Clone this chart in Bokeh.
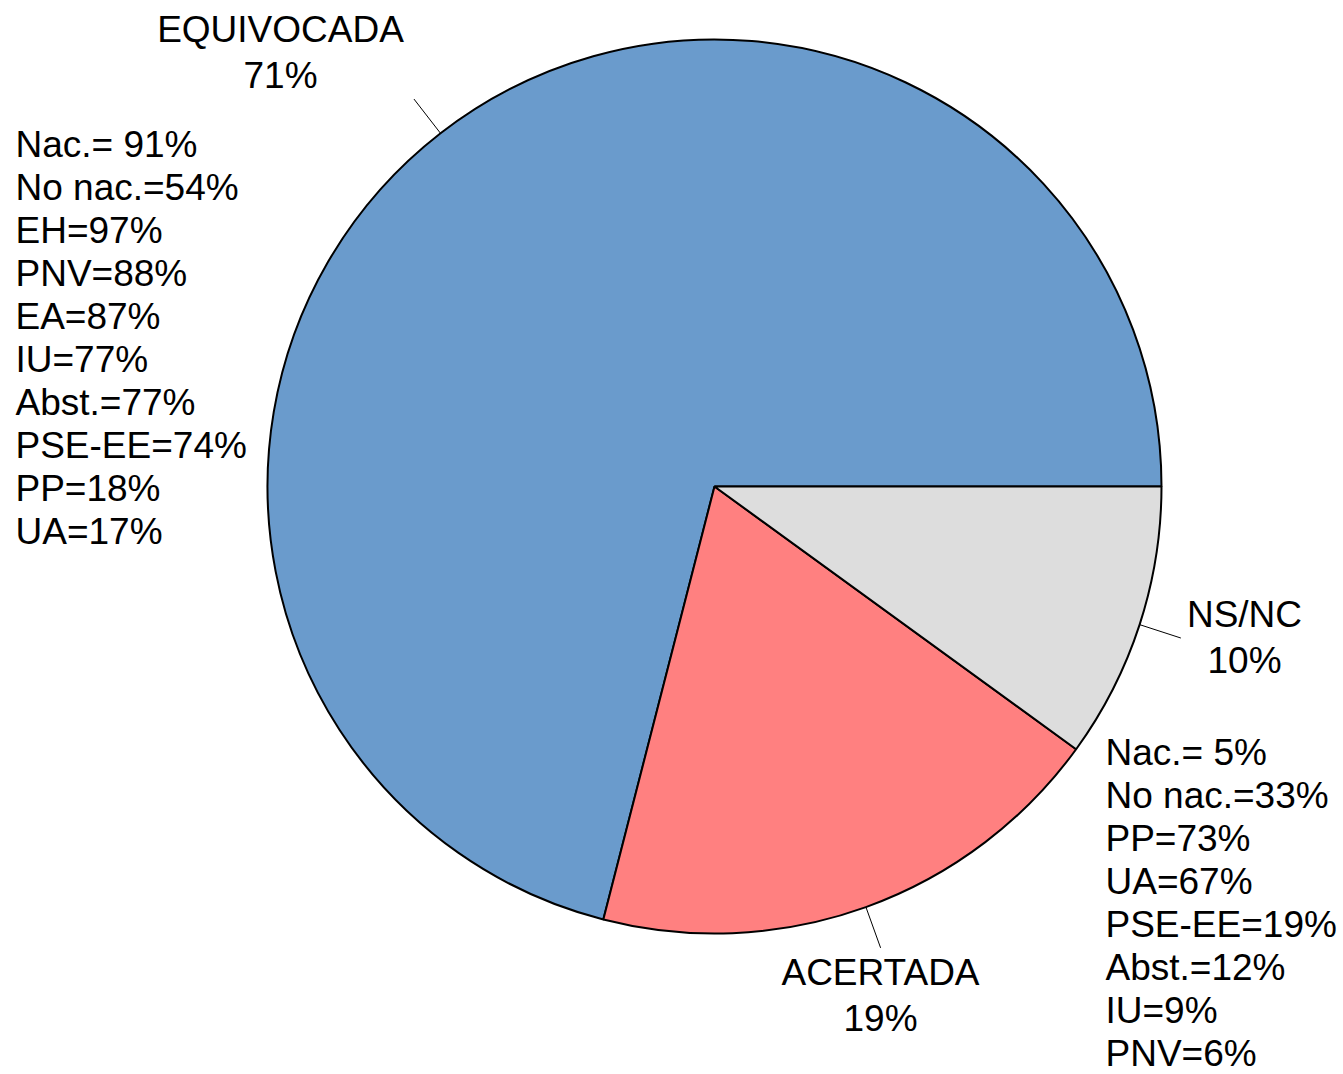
import numpy as np
from bokeh.plotting import figure
from bokeh.models import Range1d, ColumnDataSource
from bokeh.core.properties import value
from bokeh.embed import file_html
from bokeh.resources import INLINE

# ---- data ----
categories = ["EQUIVOCADA", "ACERTADA", "NS/NC"]
shares = [71, 19, 10]
colors = ["#6A9BCC", "#FF8080", "#DDDDDD"]

equiv_names = ["Nac.", "No nac.", "EH", "PNV", "EA", "IU", "Abst.", "PSE-EE", "PP", "UA"]
equiv_vals = [91, 54, 97, 88, 87, 77, 77, 74, 18, 17]

acert_names = ["Nac.", "No nac.", "PP", "UA", "PSE-EE", "Abst.", "IU", "PNV"]
acert_vals = [5, 33, 73, 67, 19, 12, 9, 6]

# ---- layout (screen pixel coordinates; data y = 1074 - screen y) ----
W, H = 1343, 1074
CX, CY, R = 714, 1074 - 486, 447
FONT = value("Liberation Sans")
FS = value("37px")
LINE = 43
DY = 13  # baseline correction

p = figure(width=W, height=H, x_range=Range1d(0, W), y_range=Range1d(1074 - H, 1074),
           output_backend="svg", toolbar_location=None, min_border=0)
p.axis.visible = False
p.grid.visible = False
p.outline_line_color = None
p.background_fill_color = "white"
p.border_fill_color = "white"

tot = float(sum(shares))
fracs = np.array(shares) / tot
ends = np.cumsum(fracs) * 2 * np.pi
starts = ends - fracs * 2 * np.pi
src = ColumnDataSource(dict(start=starts, end=ends, color=colors, cat=categories))
p.wedge(x=CX, y=CY, radius=R, start_angle="start", end_angle="end", direction="anticlock",
        fill_color="color", line_color="black", line_width=2, source=src)

# leader lines (radial, at slice mid-angles)
mids = (starts + ends) / 2
r0, r1 = R, R * 1.097
p.segment(x0=CX + r0 * np.cos(mids), y0=CY + r0 * np.sin(mids),
          x1=CX + r1 * np.cos(mids), y1=CY + r1 * np.sin(mids),
          line_color="black", line_width=1)

# slice labels
label_pos = {"EQUIVOCADA": (280, 42), "ACERTADA": (880, 985), "NS/NC": (1244, 627)}
for cat, sh in zip(categories, shares):
    lx, ly = label_pos[cat]
    ly -= DY
    p.text(x=[lx, lx], y=[1074 - ly, 1074 - ly - 46], text=[cat, f"{sh}%"],
           text_align="center", text_baseline="alphabetic",
           text_font=FONT, text_font_size=FS, text_color="black")

def fmt(n, v):
    return f"{n}= {v}%" if n == "Nac." else f"{n}={v}%"

# breakdown lists
p.text(x=[15] * len(equiv_names),
       y=[1074 - (157 - DY + LINE * i) for i in range(len(equiv_names))],
       text=[fmt(n, v) for n, v in zip(equiv_names, equiv_vals)],
       text_align="left", text_baseline="alphabetic",
       text_font=FONT, text_font_size=FS, text_color="black")
p.text(x=[1105] * len(acert_names),
       y=[1074 - (765 - DY + LINE * i) for i in range(len(acert_names))],
       text=[fmt(n, v) for n, v in zip(acert_names, acert_vals)],
       text_align="left", text_baseline="alphabetic",
       text_font=FONT, text_font_size=FS, text_color="black")

open("out.html", "w").write(file_html(p, INLINE))
